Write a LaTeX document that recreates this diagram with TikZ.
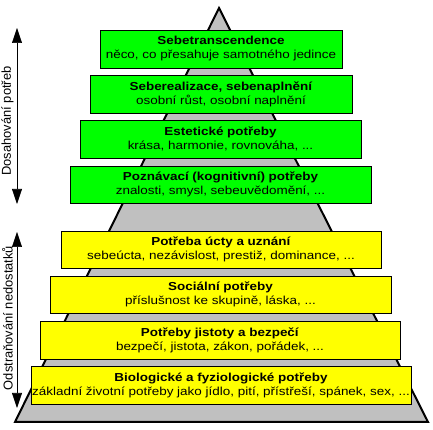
\documentclass[tikz,border=0pt]{standalone}
\usepackage{fontspec}
\setmainfont{Liberation Sans}
\newfontfamily\boxfont[FakeStretch=1.16]{Liberation Sans}
\usetikzlibrary{arrows.meta}
\definecolor{pyrgray}{RGB}{192,192,192}
\definecolor{boxgreen}{RGB}{0,255,0}
\definecolor{boxyellow}{RGB}{255,255,0}
\tikzset{
  needbox/.style={draw=black, line width=0.8pt, inner sep=0pt, align=center,
    font=\boxfont\fontsize{11.6}{14}\selectfont},
  greenbox/.style={needbox, fill=boxgreen},
  yellowbox/.style={needbox, fill=boxyellow},
  sidearrow/.style={line width=0.6pt, {Triangle[width=10pt,length=15pt]}-{Triangle[width=10pt,length=15pt]}},
  sidelabel/.style={rotate=90, font=\fontsize{12.9}{14}\selectfont, inner sep=0pt}
}
\newcommand{\neednode}[7]{%
  % #1 name, #2 style, #3 left, #4 right, #5 top(img), #6 bottom(img), #7 text
  \node[#2, minimum width={(#4-#3)*1pt}, minimum height={(#6-#5)*1pt}]
    (#1) at ({(#3+#4)/2}, {430-(#5+#6)/2}) {#7};}
\begin{document}
\begin{tikzpicture}[x=1pt,y=1pt]
\useasboundingbox (0,0) rectangle (433,430);
% pyramid
\coordinate (apex) at (219,422);
\coordinate (bl) at (15,8);
\coordinate (br) at (428,8);
\draw[fill=pyrgray, line width=2pt, line join=miter] (apex) -- (bl) -- (br) -- cycle;
% boxes
\neednode{b1}{greenbox}{100}{342}{30}{68}{\textbf{Sebetranscendence}\\něco, co přesahuje samotného jedince}
\neednode{b2}{greenbox}{90}{352}{75}{113}{\textbf{Seberealizace, sebenaplnění}\\osobní růst, osobní naplnění}
\neednode{b3}{greenbox}{80}{361}{120}{158}{\textbf{Estetické potřeby}\\krása, harmonie, rovnováha, ...}
\neednode{b4}{greenbox}{70}{371}{166}{203}{\textbf{Poznávací (kognitivní) potřeby}\\znalosti, smysl, sebeuvědomění, ...}
\neednode{b5}{yellowbox}{61}{381}{231}{268}{\textbf{Potřeba úcty a uznání}\\sebeúcta, nezávislost, prestiž, dominance, ...}
\neednode{b6}{yellowbox}{50}{391}{276}{313}{\textbf{Sociální potřeby}\\příslušnost ke skupině, láska, ...}
\neednode{b7}{yellowbox}{40}{400}{321}{359}{\textbf{Potřeby jistoty a bezpečí}\\bezpečí, jistota, zákon, pořádek, ...}
\neednode{b8}{yellowbox}{31}{411}{366}{404}{\textbf{Biologické a fyziologické potřeby}\\základní životní potřeby jako jídlo, pití, přístřeší, spánek, sex, ...}
% side arrows
\coordinate (a1t) at (17,430-28);
\coordinate (a1b) at (17,430-204);
\coordinate (a2t) at (17,430-232);
\coordinate (a2b) at (17,430-408);
\draw[sidearrow] (a1t) -- (a1b);
\draw[sidearrow] (a2t) -- (a2b);
\node[sidelabel] (l1) at (7.5,430-121) {Dosahování potřeb};
\node[sidelabel] (l2) at (7.5,430-318) {Odstraňování nedostatků};
\end{tikzpicture}
\end{document}
